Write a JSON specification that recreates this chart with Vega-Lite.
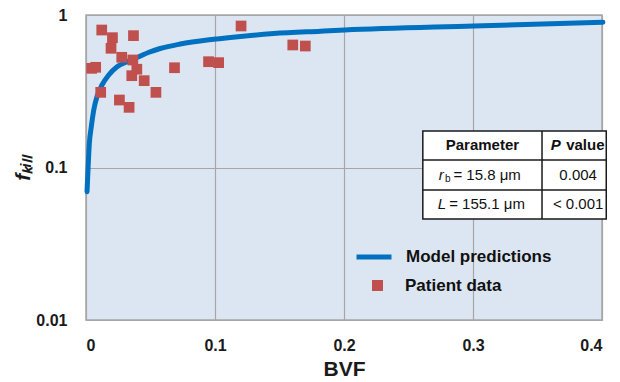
{
  "$schema": "https://vega.github.io/schema/vega-lite/v6.json",
  "width": 516,
  "height": 305,
  "autosize": {"type": "none"},
  "padding": {"left": 86, "top": 15, "right": 18, "bottom": 62},
  "config": {
    "font": "Liberation Sans",
    "view": {"fill": "#dce6f2", "stroke": "#a6a6a6", "strokeWidth": 1.5},
    "axis": {
      "domain": false,
      "ticks": false,
      "grid": true,
      "gridColor": "#a6a6a6",
      "gridWidth": 1.2,
      "labelFont": "Liberation Sans",
      "labelFontWeight": "bold",
      "labelFontSize": 16,
      "labelColor": "#1a1a1a",
      "titleColor": "#1a1a1a",
      "titleFont": "Liberation Sans",
      "titleFontWeight": "bold"
    },
    "text": {"font": "Liberation Sans", "fontSize": 15, "color": "#111111", "baseline": "middle"}
  },
  "datasets": {
    "model": [
      {"bvf": 0.0008, "fkill": 0.0694, "series": "Model predictions"},
      {"bvf": 0.0016, "fkill": 0.0988, "series": "Model predictions"},
      {"bvf": 0.0026, "fkill": 0.144, "series": "Model predictions"},
      {"bvf": 0.0041, "fkill": 0.185, "series": "Model predictions"},
      {"bvf": 0.006, "fkill": 0.238, "series": "Model predictions"},
      {"bvf": 0.0085, "fkill": 0.291, "series": "Model predictions"},
      {"bvf": 0.0124, "fkill": 0.3475, "series": "Model predictions"},
      {"bvf": 0.0176, "fkill": 0.404, "series": "Model predictions"},
      {"bvf": 0.0241, "fkill": 0.458, "series": "Model predictions"},
      {"bvf": 0.0319, "fkill": 0.494, "series": "Model predictions"},
      {"bvf": 0.041, "fkill": 0.533, "series": "Model predictions"},
      {"bvf": 0.0488, "fkill": 0.57, "series": "Model predictions"},
      {"bvf": 0.0575, "fkill": 0.603, "series": "Model predictions"},
      {"bvf": 0.073, "fkill": 0.645, "series": "Model predictions"},
      {"bvf": 0.0989, "fkill": 0.693, "series": "Model predictions"},
      {"bvf": 0.1197, "fkill": 0.724, "series": "Model predictions"},
      {"bvf": 0.1455, "fkill": 0.755, "series": "Model predictions"},
      {"bvf": 0.1818, "fkill": 0.783, "series": "Model predictions"},
      {"bvf": 0.2005, "fkill": 0.797, "series": "Model predictions"},
      {"bvf": 0.3005, "fkill": 0.847, "series": "Model predictions"},
      {"bvf": 0.4007, "fkill": 0.896, "series": "Model predictions"}
    ],
    "patients": [
      {"bvf": 0.0122, "fkill": 0.797, "series": "Patient data"},
      {"bvf": 0.0205, "fkill": 0.71, "series": "Patient data"},
      {"bvf": 0.0368, "fkill": 0.732, "series": "Patient data"},
      {"bvf": 0.0194, "fkill": 0.605, "series": "Patient data"},
      {"bvf": 0.0277, "fkill": 0.528, "series": "Patient data"},
      {"bvf": 0.0363, "fkill": 0.507, "series": "Patient data"},
      {"bvf": 0.0044, "fkill": 0.447, "series": "Patient data"},
      {"bvf": 0.0075, "fkill": 0.454, "series": "Patient data"},
      {"bvf": 0.0394, "fkill": 0.441, "series": "Patient data"},
      {"bvf": 0.0355, "fkill": 0.4, "series": "Patient data"},
      {"bvf": 0.0451, "fkill": 0.371, "series": "Patient data"},
      {"bvf": 0.0114, "fkill": 0.311, "series": "Patient data"},
      {"bvf": 0.0542, "fkill": 0.311, "series": "Patient data"},
      {"bvf": 0.0259, "fkill": 0.277, "series": "Patient data"},
      {"bvf": 0.0334, "fkill": 0.248, "series": "Patient data"},
      {"bvf": 0.0686, "fkill": 0.451, "series": "Patient data"},
      {"bvf": 0.095, "fkill": 0.494, "series": "Patient data"},
      {"bvf": 0.1028, "fkill": 0.487, "series": "Patient data"},
      {"bvf": 0.1202, "fkill": 0.847, "series": "Patient data"},
      {"bvf": 0.1603, "fkill": 0.636, "series": "Patient data"},
      {"bvf": 0.170, "fkill": 0.626, "series": "Patient data"}
    ],
    "tableBox": [{"bvf": 0.2611, "bvf2": 0.4033, "fkill": 0.1735, "fkill2": 0.0459}],
    "rowLines": [
      {"bvf": 0.2611, "bvf2": 0.4033, "fkill": 0.112},
      {"bvf": 0.2611, "bvf2": 0.4033, "fkill": 0.0711}
    ],
    "colLine": [{"bvf": 0.3535, "fkill": 0.1735, "fkill2": 0.0459}],
    "headCenter": [{"text": "Parameter", "bvf": 0.3073, "fkill": 0.1394}],
    "headItalic": [{"text": "P", "bvf": 0.3603, "fkill": 0.1394}],
    "headLeft": [{"text": "value", "bvf": 0.3722, "fkill": 0.1394}],
    "symbols": [
      {"text": "r", "bvf": 0.2735, "fkill": 0.0893},
      {"text": "L", "bvf": 0.2727, "fkill": 0.0572}
    ],
    "subscripts": [{"text": "b", "bvf": 0.2782, "fkill": 0.0893}],
    "bodyLeft": [
      {"text": "= 15.8 μm", "bvf": 0.2848, "fkill": 0.0893},
      {"text": "= 155.1 μm", "bvf": 0.2815, "fkill": 0.0572}
    ],
    "bodyCenter": [
      {"text": "0.004", "bvf": 0.3815, "fkill": 0.0893},
      {"text": "< 0.001", "bvf": 0.3815, "fkill": 0.0572}
    ]
  },
  "layer": [
    {
      "data": {"name": "model"},
      "mark": {"type": "line", "strokeWidth": 5, "interpolate": "monotone", "strokeCap": "round"},
      "encoding": {
        "x": {"field": "bvf", "type": "quantitative", "title": "BVF",
              "scale": {"domain": [0, 0.4], "nice": false},
              "axis": {"values": [0, 0.1, 0.2, 0.3, 0.4], "format": "~g", "labelPadding": 17, "titlePadding": 5, "titleFontSize": 21}},
        "y": {"field": "fkill", "type": "quantitative", "title": "fₖᵢₗₗ",
              "scale": {"type": "log", "domain": [0.01, 1], "nice": false},
              "axis": {"values": [0.01, 0.1, 1], "format": "~g", "labelPadding": 19, "titlePadding": 2, "titleFontSize": 21, "titleFontStyle": "italic"}},
        "stroke": {"field": "series", "type": "nominal",
                   "scale": {"range": ["#0070c0"]},
                   "legend": {"title": null, "orient": "none", "legendX": 268, "legendY": 222, "padding": 0,
                              "symbolType": "stroke", "symbolSize": 1225, "symbolStrokeWidth": 5,
                              "labelFontSize": 17, "labelFontWeight": "bold", "labelColor": "#111111", "labelOffset": 12}}
      }
    },
    {
      "data": {"name": "patients"},
      "mark": {"type": "point", "shape": "square", "filled": true, "size": 115, "opacity": 1},
      "encoding": {
        "x": {"field": "bvf", "type": "quantitative", "title": "BVF"},
        "y": {"field": "fkill", "type": "quantitative", "title": "fₖᵢₗₗ"},
        "fill": {"field": "series", "type": "nominal",
                 "scale": {"range": ["#c0504d"]},
                 "legend": {"title": null, "orient": "none", "legendX": 283, "legendY": 262, "padding": 0,
                            "symbolType": "square", "symbolSize": 121, "symbolStrokeWidth": 0,
                            "labelFontSize": 17, "labelFontWeight": "bold", "labelColor": "#111111", "labelOffset": 19}}
      }
    },
    {
      "data": {"name": "tableBox"},
      "mark": {"type": "rect", "fill": "#ffffff", "stroke": "#1a1a1a", "strokeWidth": 1.5},
      "encoding": {
        "x": {"field": "bvf", "type": "quantitative", "title": "BVF"},
        "x2": {"field": "bvf2"},
        "y": {"field": "fkill", "type": "quantitative", "title": "fₖᵢₗₗ"},
        "y2": {"field": "fkill2"}
      }
    },
    {
      "data": {"name": "rowLines"},
      "mark": {"type": "rule", "color": "#1a1a1a", "strokeWidth": 1.5},
      "encoding": {
        "x": {"field": "bvf", "type": "quantitative", "title": "BVF"},
        "x2": {"field": "bvf2"},
        "y": {"field": "fkill", "type": "quantitative", "title": "fₖᵢₗₗ"}
      }
    },
    {
      "data": {"name": "colLine"},
      "mark": {"type": "rule", "color": "#1a1a1a", "strokeWidth": 1.5},
      "encoding": {
        "x": {"field": "bvf", "type": "quantitative", "title": "BVF"},
        "y": {"field": "fkill", "type": "quantitative", "title": "fₖᵢₗₗ"},
        "y2": {"field": "fkill2"}
      }
    },
    {
      "data": {"name": "headCenter"},
      "mark": {"type": "text", "align": "center", "fontWeight": "bold"},
      "encoding": {
        "x": {"field": "bvf", "type": "quantitative", "title": "BVF"},
        "y": {"field": "fkill", "type": "quantitative", "title": "fₖᵢₗₗ"},
        "text": {"field": "text"}
      }
    },
    {
      "data": {"name": "headItalic"},
      "mark": {"type": "text", "align": "left", "fontWeight": "bold", "fontStyle": "italic"},
      "encoding": {
        "x": {"field": "bvf", "type": "quantitative", "title": "BVF"},
        "y": {"field": "fkill", "type": "quantitative", "title": "fₖᵢₗₗ"},
        "text": {"field": "text"}
      }
    },
    {
      "data": {"name": "headLeft"},
      "mark": {"type": "text", "align": "left", "fontWeight": "bold"},
      "encoding": {
        "x": {"field": "bvf", "type": "quantitative", "title": "BVF"},
        "y": {"field": "fkill", "type": "quantitative", "title": "fₖᵢₗₗ"},
        "text": {"field": "text"}
      }
    },
    {
      "data": {"name": "symbols"},
      "mark": {"type": "text", "align": "left", "fontStyle": "italic"},
      "encoding": {
        "x": {"field": "bvf", "type": "quantitative", "title": "BVF"},
        "y": {"field": "fkill", "type": "quantitative", "title": "fₖᵢₗₗ"},
        "text": {"field": "text"}
      }
    },
    {
      "data": {"name": "subscripts"},
      "mark": {"type": "text", "align": "left", "fontSize": 10, "dy": 4},
      "encoding": {
        "x": {"field": "bvf", "type": "quantitative", "title": "BVF"},
        "y": {"field": "fkill", "type": "quantitative", "title": "fₖᵢₗₗ"},
        "text": {"field": "text"}
      }
    },
    {
      "data": {"name": "bodyLeft"},
      "mark": {"type": "text", "align": "left"},
      "encoding": {
        "x": {"field": "bvf", "type": "quantitative", "title": "BVF"},
        "y": {"field": "fkill", "type": "quantitative", "title": "fₖᵢₗₗ"},
        "text": {"field": "text"}
      }
    },
    {
      "data": {"name": "bodyCenter"},
      "mark": {"type": "text", "align": "center"},
      "encoding": {
        "x": {"field": "bvf", "type": "quantitative", "title": "BVF"},
        "y": {"field": "fkill", "type": "quantitative", "title": "fₖᵢₗₗ"},
        "text": {"field": "text"}
      }
    }
  ]
}
